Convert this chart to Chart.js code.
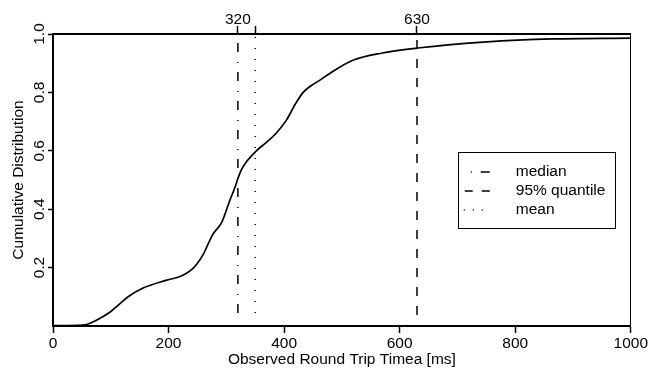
<!DOCTYPE html>
<html><head><meta charset="utf-8">
<script src="https://cdn.jsdelivr.net/npm/chart.js@4"></script>
<style>html,body{margin:0;padding:0;background:#fff;} canvas{display:block;}</style>
</head><body>
<canvas id="c" width="649" height="370"></canvas>
<script>
// ---- data ----
const cdfX = [0, 50, 58, 65, 80, 99, 115, 130, 156, 197, 223, 240, 249, 260, 269, 277, 292, 306, 315, 320, 326, 335, 352, 370, 387, 404, 420, 433, 446, 462, 479, 519, 570, 631, 751, 865, 1000];
const cdfY = [0.001, 0.003, 0.005, 0.01, 0.025, 0.048, 0.075, 0.10, 0.13, 0.157, 0.172, 0.193, 0.212, 0.245, 0.283, 0.315, 0.355, 0.43, 0.475, 0.505, 0.535, 0.563, 0.60, 0.63, 0.662, 0.705, 0.762, 0.80, 0.822, 0.842, 0.865, 0.91, 0.935, 0.952, 0.973, 0.983, 0.986];
const medianValue = 320;
const quantile95Value = 630;
const meanValue = 350;
const bottomTicks = [0, 200, 400, 600, 800, 1000];
const leftTicks = [0.2, 0.4, 0.6, 0.8, 1.0];
const topTicks = [320, 350, 630];
const topTickLabels = ['320', '', '630'];
const legendLabels = ['median', '95% quantile', 'mean'];
const xTitle = 'Observed Round Trip Timea [ms]';
const yTitle = 'Cumulative Distribution';
const refLineTop = 1;
const refLineBottom = 0.03;

const FAM = '"Liberation Sans", Arial, Helvetica, sans-serif';
const FS = 15.5;

const curve = cdfX.map((x, i) => ({x: x, y: cdfY[i]}));
function vline(v) { return [{x: v, y: refLineTop}, {x: v, y: refLineBottom}]; }

const legendPlugin = {
  id: 'boxLegend',
  afterDraw(chart) {
    const ctx = chart.ctx, a = chart.chartArea;
    const bx = a.right - 173, by = a.top + 118, bw = 157, bh = 76;
    ctx.save();
    ctx.strokeStyle = '#000'; ctx.lineWidth = 1;
    ctx.setLineDash([]);
    ctx.strokeRect(Math.round(bx) + 0.5, Math.round(by) + 0.5, bw, bh);
    const samples = [
      {dash: [1, 9, 9, 10], x0: 13, x1: 33},
      {dash: [8, 9], x0: 7, x1: 32},
      {dash: [1, 8], x0: 6, x1: 25}
    ];
    ctx.font = FS + 'px ' + FAM;
    ctx.fillStyle = '#000';
    ctx.textBaseline = 'middle';
    ctx.textAlign = 'left';
    legendLabels.forEach((lab, i) => {
      const y = by + 20 + i * 19;
      const s = samples[i];
      ctx.beginPath();
      ctx.setLineDash(s.dash);
      ctx.lineWidth = 1.5;
      ctx.moveTo(bx + s.x0, y); ctx.lineTo(bx + s.x1, y);
      ctx.stroke();
      ctx.fillText(lab, bx + 58, y);
    });
    ctx.restore();
  }
};

new Chart(document.getElementById('c'), {
  type: 'line',
  data: {
    datasets: [
      {label: 'cdf', data: curve, borderColor: '#000', borderWidth: 1.7, pointRadius: 0, cubicInterpolationMode: 'monotone', fill: false, xAxisID: 'x', yAxisID: 'y'},
      {label: legendLabels[0], data: vline(medianValue), borderColor: '#000', borderWidth: 1.5, borderDash: [9, 10, 1, 9], borderDashOffset: 20, pointRadius: 0, fill: false, xAxisID: 'x', yAxisID: 'y'},
      {label: legendLabels[1], data: vline(quantile95Value), borderColor: '#000', borderWidth: 1.5, borderDash: [9, 10], borderDashOffset: 13, pointRadius: 0, fill: false, xAxisID: 'x', yAxisID: 'y'},
      {label: legendLabels[2], data: vline(meanValue), borderColor: '#000', borderWidth: 1.5, borderDash: [1, 10], borderDashOffset: 8, pointRadius: 0, fill: false, xAxisID: 'x', yAxisID: 'y'}
    ]
  },
  options: {
    responsive: false,
    animation: false,
    devicePixelRatio: 1,
    layout: {padding: 0},
    plugins: {legend: {display: false}, tooltip: {enabled: false}},
    scales: {
      x: {
        type: 'linear', position: 'bottom', min: 0, max: 1000,
        afterBuildTicks: s => { s.ticks = bottomTicks.map(v => ({value: v})); },
        afterFit: s => { s.height = 44; },
        grid: {display: true, drawOnChartArea: false, drawTicks: true, tickLength: 7, tickWidth: 1.5, tickColor: '#000', color: '#000'},
        border: {display: true, width: 2, color: '#000'},
        ticks: {color: '#000', font: {family: FAM, size: FS}, padding: 1, minRotation: 0, maxRotation: 0, autoSkip: false, callback: v => String(v)},
        title: {display: true, text: xTitle, color: '#000', font: {family: FAM, size: FS}, padding: {top: 0, bottom: 0.7}}
      },
      x2: {
        type: 'linear', position: 'top', min: 0, max: 1000,
        afterBuildTicks: s => { s.ticks = topTicks.map(v => ({value: v})); },
        afterFit: s => { s.height = 34; },
        grid: {display: true, drawOnChartArea: false, drawTicks: true, tickLength: 8, tickWidth: 1.5, tickColor: '#000', color: '#000'},
        border: {display: true, width: 2, color: '#000'},
        ticks: {color: '#000', font: {family: FAM, size: FS}, padding: -3, minRotation: 0, maxRotation: 0, autoSkip: false, callback: (v, i) => topTickLabels[i]}
      },
      y: {
        type: 'linear', position: 'left', min: 0, max: 1,
        afterBuildTicks: s => { s.ticks = leftTicks.map(v => ({value: v})); },
        afterFit: s => { s.width = 53; },
        grid: {display: true, drawOnChartArea: false, drawTicks: true, tickLength: 5, tickWidth: 1.5, tickColor: '#000', color: '#000'},
        border: {display: true, width: 2, color: '#000'},
        ticks: {color: '#000', font: {family: FAM, size: FS}, padding: -2, minRotation: 90, maxRotation: 90, crossAlign: 'center', autoSkip: false, callback: v => v.toFixed(1)},
        title: {display: true, text: yTitle, color: '#000', font: {family: FAM, size: FS}, padding: {top: 9.7, bottom: 0}}
      },
      y2: {
        type: 'linear', position: 'right', min: 0, max: 1,
        afterFit: s => { s.width = 18; },
        grid: {display: false, drawOnChartArea: false, drawTicks: false},
        border: {display: true, width: 1, color: '#000'},
        ticks: {display: false}
      }
    }
  },
  plugins: [legendPlugin]
});
</script>
</body></html>
